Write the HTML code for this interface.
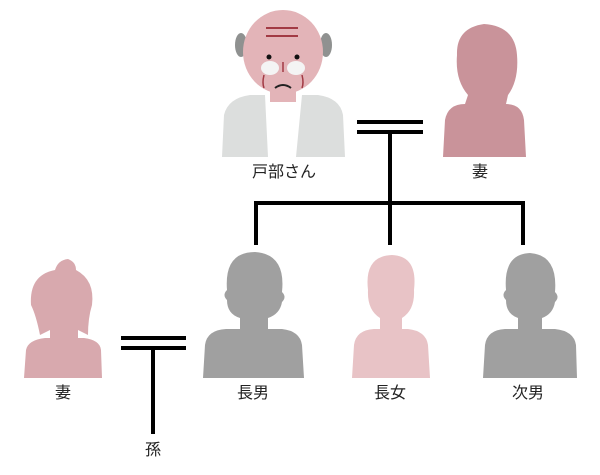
<!DOCTYPE html>
<html><head><meta charset="utf-8"><style>
html,body{margin:0;padding:0;background:#fff;width:600px;height:475px;overflow:hidden}
text{font-family:"Liberation Sans","Noto Sans CJK JP",sans-serif;font-size:16px;fill:#222}
</style></head><body>
<svg width="600" height="475" viewBox="0 0 600 475" xmlns="http://www.w3.org/2000/svg">
<!-- old man -->
<path d="M222 157 L224 115 Q228 98 250 95 L318 95 Q340 98 343 115 L345 157 Z" fill="#dcdedd"/>
<path d="M265 95 L302 95 L296 157 L268 157 Z" fill="#fff"/>
<ellipse cx="241" cy="45" rx="6" ry="12" fill="#8f9190"/>
<ellipse cx="326" cy="45" rx="6" ry="12" fill="#8f9190"/>
<rect x="270" y="80" width="26" height="22" fill="#e3b4b8"/>
<ellipse cx="283" cy="52" rx="40" ry="42" fill="#e3b4b8"/>
<line x1="266" y1="28" x2="298" y2="28" stroke="#a23a44" stroke-width="2"/>
<line x1="266" y1="36" x2="298" y2="36" stroke="#a23a44" stroke-width="2"/>
<circle cx="269" cy="57" r="2.5" fill="#111"/><circle cx="297" cy="57" r="2.5" fill="#111"/>
<ellipse cx="270" cy="68" rx="9" ry="7" fill="#f4f4f4"/><ellipse cx="296" cy="68" rx="9" ry="7" fill="#f4f4f4"/>
<path d="M283 62 L283 72 M264 75 Q262 83 264 88 M302 75 Q304 83 302 88" stroke="#a23a44" stroke-width="1.5" fill="none"/>
<path d="M275 88 Q283 82 291 88" stroke="#222" stroke-width="2" fill="none"/>
<text x="284" y="177" text-anchor="middle">戸部さん</text>
<!-- top wife -->
<path d="M443 157 L445 120 Q448 104 465 104 L468 95 Q455 80 457 55 Q456 28 484 24 Q515 26 517 55 Q519 80 508 95 L506 104 Q522 104 524 120 L526 157 Z" fill="#c9939a"/>
<text x="480" y="177" text-anchor="middle">妻</text>
<!-- connectors top -->
<g stroke="#000" stroke-width="4" fill="none">
<line x1="357" y1="122" x2="423" y2="122"/><line x1="357" y1="132" x2="423" y2="132"/>
<line x1="390" y1="132" x2="390" y2="245"/>
<polyline points="256,245 256,203 523,203 523,245"/>
<line x1="121" y1="338" x2="186" y2="338"/><line x1="121" y1="348" x2="186" y2="348"/>
<line x1="153" y1="348" x2="153" y2="434"/>
</g>
<!-- 長男 -->
<path d="M203 378 L205 345 Q207 330 226 329 L240 329 L240 318 Q227 314 227 300 Q222 295 227 290 Q224 252 255 252 Q286 254 282 292 Q287 297 282 302 Q280 314 268 318 L268 329 L282 329 Q300 331 302 345 L304 378 Z" fill="#a0a0a0"/>
<text x="253" y="398" text-anchor="middle">長男</text>
<!-- 長女 -->
<path d="M352 378 L354 345 Q356 330 374 329 L380 329 L380 318 Q367 310 368 290 Q364 256 392 255 Q418 256 414 290 Q415 310 402 318 L402 329 L408 329 Q426 331 428 345 L430 378 Z" fill="#e8c3c6"/>
<text x="390" y="398" text-anchor="middle">長女</text>
<!-- 次男 -->
<path d="M483 378 L485 345 Q487 330 505 329 L518 329 L518 318 Q506 314 506 300 Q501 295 506 290 Q503 254 530 253 Q558 255 555 292 Q560 297 555 302 Q553 314 542 318 L542 329 L555 329 Q574 331 576 345 L577 378 Z" fill="#a0a0a0"/>
<text x="528" y="398" text-anchor="middle">次男</text>
<!-- left wife -->
<path d="M24 378 L26 350 Q28 340 45 338 L50 338 L50 330 L40 335 Q36 315 31 305 Q29 275 55 270 Q58 260 68 259 Q76 262 76 270 Q95 280 92 305 Q88 318 88 335 L78 330 L78 338 L84 338 Q100 340 101 350 L102 378 Z" fill="#d8a9ae"/>
<text x="63" y="398" text-anchor="middle">妻</text>
<text x="153" y="455" text-anchor="middle">孫</text>
</svg>
</body></html>
